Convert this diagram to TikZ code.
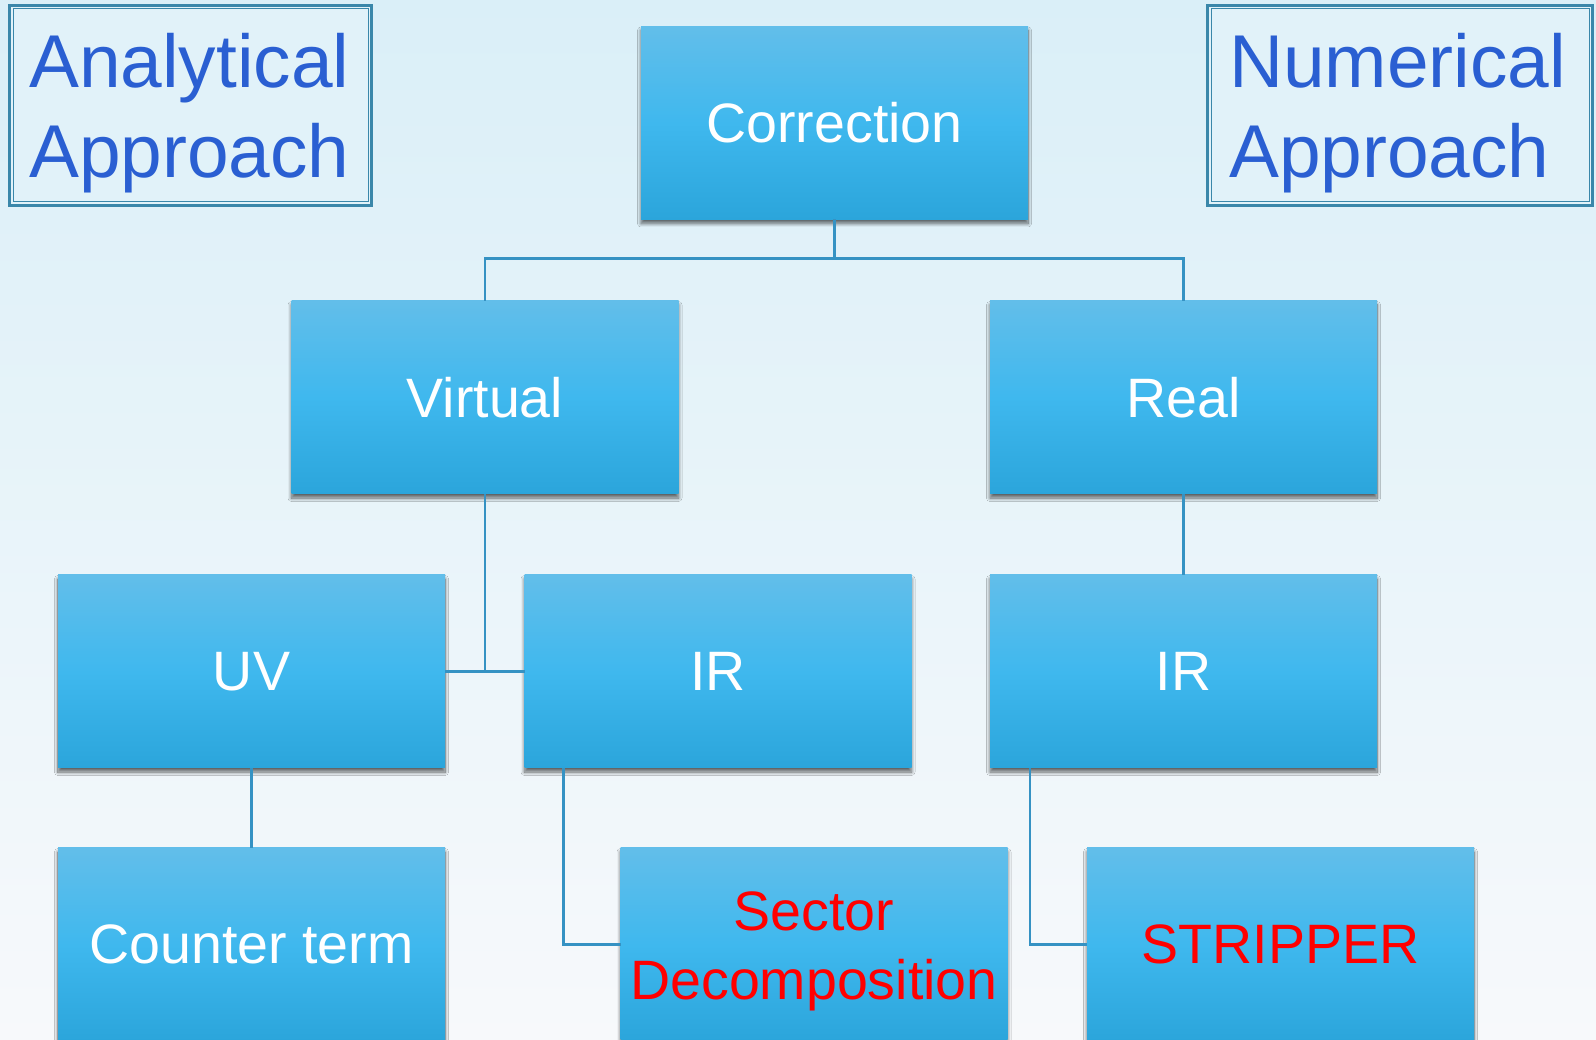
\documentclass[tikz,border=0pt]{standalone}
\usepackage{fontspec}
\setmainfont{Liberation Sans}
\usetikzlibrary{calc, shadows.blur}
\definecolor{boxtop}{HTML}{62BEEA}
\definecolor{boxmid}{HTML}{3FB8EE}
\definecolor{boxbot}{HTML}{2BA5DB}
\definecolor{wire}{HTML}{3592C3}
\definecolor{frame}{HTML}{3A87AA}
\definecolor{ink}{HTML}{2A5FD2}
\definecolor{paper}{HTML}{E1F2F9}
\definecolor{skytop}{HTML}{DAEFF8}
\definecolor{skybot}{HTML}{F7F9FB}

\begin{document}
\begin{tikzpicture}[
    stage/.style={minimum width=3.87cm, minimum height=1.93cm, inner sep=0pt, outer sep=0pt,
        top color=boxtop, bottom color=boxbot, middle color=boxmid,
        blur shadow={shadow xshift=0cm, shadow yshift=-0.04cm, shadow blur radius=0.035cm, shadow blur steps=10, shadow opacity=60},
        text=white, align=center, font=\fontsize{15.8}{19.6}\selectfont},
    hot/.style={text=red},
    approach/.style={draw=frame, line width=0.03cm, fill=paper, minimum height=2.0cm, inner sep=0pt, minimum width=#1},
    label text/.style={inner sep=0pt, anchor=north west, align=left, text=ink, font=\fontsize{21.3}{25.6}\selectfont},
    link/.style={draw=wire, line width=0.027cm},
]
    \clip (0,0) rectangle (15.96,-10.40);
    \shade[top color=skytop, bottom color=skybot] (0,0) rectangle (15.96,-10.40);

    % the two approach labels
    \node[approach=3.62cm] (anabox) at (1.905,-1.055) {};
    \draw[frame, line width=0.01cm] ([shift={(0.05,-0.05)}]anabox.north west) rectangle ([shift={(-0.05,0.05)}]anabox.south east);
    \node[label text] (anatext) at ($(anabox.north west)+(0.205,-0.285)$) {Analytical\\Approach};

    \node[approach=3.85cm] (numbox) at (14.00,-1.055) {};
    \draw[frame, line width=0.01cm] ([shift={(0.05,-0.05)}]numbox.north west) rectangle ([shift={(-0.05,0.05)}]numbox.south east);
    \node[label text] (numtext) at ($(numbox.north west)+(0.225,-0.285)$) {Numerical\\Approach};

    % tree of boxes
    \node[stage] (corr) at (8.345,-1.23) {Correction};
    \node[stage] (virt) at (4.85,-3.975) {Virtual};
    \node[stage] (real) at (11.835,-3.975) {Real};
    \node[stage] (uv) at (2.515,-6.715) {UV};
    \node[stage] (irv) at (7.18,-6.715) {IR};
    \node[stage] (irr) at (11.835,-6.715) {IR};
    \node[stage] (ct) at (2.515,-9.445) {Counter term};
    \node[stage, hot] (secdec) at (8.14,-9.445) {\rule{0pt}{0.53cm}Sector\\Decomposition};
    \node[stage, hot] (strip) at (12.805,-9.445) {STRIPPER};

    % connectors
    \draw[link] (corr.south) -- ++(0,-0.39) -| (virt.north);
    \draw[link] (corr.south) -- ++(0,-0.39) -| (real.north);
    \draw[link] (virt.south) |- (uv.east);
    \draw[link] (virt.south) |- (irv.west);
    \draw[link] (real.south) -- (irr.north);
    \draw[link] (uv.south) -- (ct.north);
    \draw[link] ([xshift=0.39cm]irv.south west) |- (secdec.west);
    \draw[link] ([xshift=0.40cm]irr.south west) |- (strip.west);
\end{tikzpicture}
\end{document}
